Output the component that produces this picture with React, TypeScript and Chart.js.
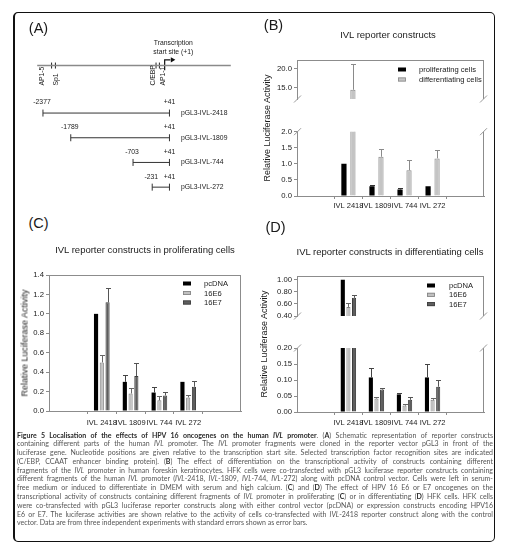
import React, { useEffect, useLayoutEffect, useRef } from 'react';
import { Chart, registerables } from 'chart.js';
Chart.register(...registerables);

const SANS = '"Liberation Sans", Arial, Helvetica, sans-serif';
const FRAME = '#8c8c8c';
const TEXT = '#1a1a1a';

// ---------- data ----------
const categories = ['IVL 2418', 'IVL 1809', 'IVL 744', 'IVL 272'];

// Panel B: proliferating vs differentiating
const bProliferating = [1.0, 0.3, 0.2, 0.3];
const bProliferatingErr = [0, 0.05, 0.06, 0];
const bDifferentiating = [14.5, 1.22, 0.8, 1.17];
const bDifferentiatingErr = [6.6, 0.24, 0.33, 0.25];
const bUpperTicks = [15, 20];
const bLowerTicks = [0, 0.5, 1.0, 1.5, 2.0];

// Panel C: proliferating cells
const cPcDNA = [1.0, 0.3, 0.19, 0.3];
const cPcDNAErr = [0, 0.07, 0.055, 0];
const c16E6 = [0.5, 0.18, 0.11, 0.14];
const c16E6Err = [0.08, 0.06, 0.04, 0.02];
const c16E7 = [1.12, 0.36, 0.16, 0.25];
const c16E7Err = [0.15, 0.13, 0.04, 0.06];
const cTicks = [0, 0.2, 0.4, 0.6, 0.8, 1.0, 1.2, 1.4];

// Panel D: differentiating cells
const dPcDNA = [1.0, 0.108, 0.055, 0.108];
const dPcDNAErr = [0, 0.029, 0.003, 0.042];
const d16E6 = [0.55, 0.042, 0.02, 0.038];
const d16E6Err = [0.06, 0.005, 0.005, 0.005];
const d16E7 = [0.7, 0.07, 0.038, 0.079];
const d16E7Err = [0.045, 0.006, 0.008, 0.021];
const dUpperTicks = [0.4, 0.6, 0.8, 1.0];
const dLowerTicks = [0, 0.05, 0.1, 0.15, 0.2];

// Panel A: schematic (positions in schematic units)
const siteNames = ['AP1-5', 'Sp1', 'C/EBP', 'AP1-1'];
const siteX = [48, 52, 157, 160.5];
const siteLabelX = [38.5, 52.5, 154, 164];
const constructNames = ['pGL3-IVL-2418', 'pGL3-IVL-1809', 'pGL3-IVL-744', 'pGL3-IVL-272'];
const constructStartLabels = ['-2377', '-1789', '-703', '-231'];
const constructEndLabel = '+41';
const constructStartX = [39, 68, 133, 153];
const constructEndX = 171;
const constructRowY = [113, 139, 165, 191];
const geneLineX = [33, 235];
const geneLineY = 63;
const tssX = 166;

// ---------- plugins ----------
function errorBarPlugin(errors: number[][], colors: string[]) {
  return {
    id: 'errorBars',
    afterDatasetsDraw(chart: any) {
      const { ctx, chartArea: a } = chart;
      ctx.save();
      ctx.beginPath();
      ctx.rect(a.left, a.top - 0.5, a.right - a.left, a.bottom - a.top + 0.5);
      ctx.clip();
      chart.data.datasets.forEach((ds: any, di: number) => {
        const meta = chart.getDatasetMeta(di);
        const ys = chart.scales[meta.yAxisID];
        meta.data.forEach((bar: any, i: number) => {
          const e = errors[di][i];
          if (!e) return;
          const v = ds.data[i].y;
          const x = Math.round(bar.x) + 0.5;
          const y0 = ys.getPixelForValue(v);
          const y1 = Math.round(ys.getPixelForValue(v + e)) + 0.5;
          ctx.strokeStyle = colors[di];
          ctx.lineWidth = 1;
          ctx.beginPath();
          ctx.moveTo(x, y0);
          ctx.lineTo(x, y1);
          ctx.moveTo(x - 2.5, y1);
          ctx.lineTo(x + 2.5, y1);
          ctx.stroke();
        });
      });
      ctx.restore();
    },
  };
}

function framePlugin(frameTop: boolean, breakAt: string | null) {
  return {
    id: 'frame',
    afterDraw(chart: any) {
      const { ctx, chartArea: a } = chart;
      ctx.save();
      ctx.strokeStyle = FRAME;
      ctx.lineWidth = 1;
      const L = Math.round(a.left) + 0.5;
      const R = Math.round(a.right) - 0.5;
      const T = Math.round(a.top) + 0.5;
      ctx.beginPath();
      ctx.moveTo(R, a.top);
      ctx.lineTo(R, a.bottom);
      if (frameTop) {
        ctx.moveTo(L - 0.5, T);
        ctx.lineTo(R + 0.5, T);
      }
      ctx.stroke();
      if (breakAt) {
        const y = breakAt === 'top' ? a.top : a.bottom;
        ctx.strokeStyle = '#9a9a9a';
        ctx.beginPath();
        for (const x of [L, R]) {
          ctx.moveTo(x - 3.5, y + 3.5);
          ctx.lineTo(x + 3.5, y - 3.5);
        }
        ctx.stroke();
      }
      ctx.restore();
    },
  };
}

type LegendSpec = { boxX: number; textX: number; y: number; dy: number };

function legendPlugin(spec: LegendSpec | undefined, ox: number, oy: number) {
  return {
    id: 'boxLegend',
    afterDraw(chart: any) {
      if (!spec) return;
      const { ctx } = chart;
      ctx.save();
      ctx.font = `7.6px ${SANS}`;
      ctx.textBaseline = 'middle';
      ctx.textAlign = 'left';
      chart.data.datasets.forEach((ds: any, i: number) => {
        const y = spec.y + i * spec.dy - oy;
        const bx = spec.boxX - ox;
        ctx.fillStyle = ds.backgroundColor;
        ctx.fillRect(bx, y - 2, 8, 4);
        if (ds.borderWidth) {
          ctx.strokeStyle = ds.borderColor;
          ctx.lineWidth = 0.8;
          ctx.strokeRect(bx + 0.4, y - 1.6, 7.2, 3.2);
        }
        ctx.fillStyle = TEXT;
        ctx.fillText(ds.label, spec.textX - ox, y + 0.5);
      });
      ctx.restore();
    },
  };
}

// ---------- bar chart component ----------
type Series = {
  label: string;
  values: number[];
  errors: number[];
  fill: string;
  stroke: string;
  border: number;
  errColor: string;
};

type Spec = {
  area: { left: number; top: number; right: number; bottom: number };
  xMax: number;
  yMin: number;
  yMax: number;
  yTicks: number[];
  decimals: number;
  showX: boolean;
  xLabelPad: number;
  frameTop: boolean;
  breakAt: string | null;
  cp: number;
  bp: number;
  series: Series[];
  legend?: LegendSpec;
};

const YW = 45;
const PAD = 12;
const XH = 24;

function BarChart({ spec }: { spec: Spec }) {
  const ref = useRef<HTMLCanvasElement>(null);
  const { area } = spec;
  const cl = Math.floor(area.left - YW);
  const ct = Math.floor(area.top - PAD);
  const cw = Math.ceil(area.right + PAD - cl);
  const bottomExtra = spec.showX ? XH : PAD;
  const ch = Math.ceil(area.bottom + bottomExtra - ct);
  const padLeft = area.left - YW - cl;
  const padTop = area.top - ct;
  const padRight = cw - (area.right - cl);
  const padBottom = ch - (area.bottom - ct) - (spec.showX ? XH : 0);

  useEffect(() => {
    const canvas = ref.current;
    if (!canvas) return;
    const chart = new Chart(canvas, {
      type: 'bar',
      data: {
        datasets: spec.series.map((s) => ({
          label: s.label,
          data: s.values.map((v, i) => ({ x: i + 1, y: v })),
          backgroundColor: s.fill,
          borderColor: s.stroke,
          borderWidth: s.border,
          categoryPercentage: spec.cp,
          barPercentage: spec.bp,
          clip: 0,
        })),
      },
      options: {
        responsive: false,
        animation: false,
        devicePixelRatio: 1,
        events: [],
        layout: { padding: { left: padLeft, top: padTop, right: padRight, bottom: padBottom } },
        plugins: { legend: { display: false }, title: { display: false }, tooltip: { enabled: false } },
        scales: {
          x: {
            type: 'linear',
            min: 0,
            max: spec.xMax,
            display: spec.showX,
            afterBuildTicks: (s: any) => {
              s.ticks = categories.map((_, i) => ({ value: i + 1 }));
            },
            afterFit: (s: any) => {
              s.height = XH;
              s.paddingLeft = 0;
              s.paddingRight = 0;
            },
            ticks: {
              autoSkip: false,
              maxRotation: 0,
              padding: spec.xLabelPad,
              color: TEXT,
              font: { family: SANS, size: 7.5 },
              callback: (v: any) => categories[Number(v) - 1] ?? '',
            },
            grid: { display: true, drawOnChartArea: false, drawTicks: true, tickLength: 3, color: FRAME },
            border: { display: true, color: FRAME, width: 1 },
          },
          y: {
            type: 'linear',
            min: spec.yMin,
            max: spec.yMax,
            afterBuildTicks: (s: any) => {
              s.ticks = spec.yTicks.map((v) => ({ value: v }));
            },
            afterFit: (s: any) => {
              s.width = YW;
              s.paddingTop = 0;
              s.paddingBottom = 0;
            },
            ticks: {
              padding: 2,
              color: TEXT,
              font: { family: SANS, size: 7.7 },
              callback: (v: any) => Number(v).toFixed(spec.decimals),
            },
            grid: { display: true, drawOnChartArea: false, drawTicks: true, tickLength: 3, color: FRAME },
            border: { display: true, color: FRAME, width: 1 },
          },
        },
      } as any,
      plugins: [
        errorBarPlugin(spec.series.map((s) => s.errors), spec.series.map((s) => s.errColor)),
        framePlugin(spec.frameTop, spec.breakAt),
        legendPlugin(spec.legend, cl, ct),
      ],
    });
    return () => chart.destroy();
  }, []);

  return (
    <canvas
      ref={ref}
      width={cw}
      height={ch}
      style={{ position: 'absolute', left: cl, top: ct, width: cw, height: ch }}
    />
  );
}

// ---------- panel A schematic ----------
function SchematicChart() {
  const ref = useRef<HTMLCanvasElement>(null);
  const L = 14, T = 14, W = 240, H = 200;
  useEffect(() => {
    const canvas = ref.current;
    if (!canvas) return;
    const texts: { text: string; x: number; y: number; align: string; rot?: boolean }[] = [];
    texts.push({ text: 'Transcription', x: tssX + 9, y: 39.5, align: 'center' });
    texts.push({ text: 'start site (+1)', x: tssX + 9, y: 48.5, align: 'center' });
    siteNames.forEach((n, i) => texts.push({ text: n, x: siteLabelX[i], y: 84, align: 'left', rot: true }));
    constructNames.forEach((n, i) => {
      texts.push({ text: constructStartLabels[i], x: constructStartX[i] - 1, y: constructRowY[i] - 11, align: 'center' });
      texts.push({ text: constructEndLabel, x: constructEndX, y: constructRowY[i] - 11, align: 'center' });
      texts.push({ text: n, x: 183, y: constructRowY[i], align: 'left' });
    });
    const textPlugin = {
      id: 'schemText',
      afterDatasetsDraw(chart: any) {
        const { ctx } = chart;
        const xs = chart.scales.x, ys = chart.scales.y;
        ctx.save();
        ctx.fillStyle = TEXT;
        ctx.font = `6.8px ${SANS}`;
        for (const t of texts) {
          ctx.save();
          ctx.translate(xs.getPixelForValue(t.x), ys.getPixelForValue(t.y));
          if (t.rot) ctx.rotate(-Math.PI / 2);
          ctx.textAlign = t.align;
          ctx.textBaseline = 'middle';
          ctx.fillText(t.text, 0, 0);
          ctx.restore();
        }
        ctx.restore();
      },
    };
    const datasets: any[] = [
      {
        data: geneLineX.map((x) => ({ x, y: geneLineY })),
        showLine: true,
        borderColor: '#8a8a8a',
        borderWidth: 1.4,
        pointRadius: 0,
      },
      {
        data: siteX.map((x) => ({ x, y: geneLineY })),
        showLine: false,
        pointStyle: 'line',
        rotation: 90,
        pointRadius: 3,
        borderColor: '#222',
        borderWidth: 1,
      },
      {
        data: [
          { x: tssX, y: geneLineY + 5 },
          { x: tssX, y: geneLineY - 6 },
          { x: tssX + 6, y: geneLineY - 6 },
        ],
        showLine: true,
        borderColor: '#111',
        borderWidth: 1.2,
        pointRadius: 0,
      },
      {
        data: [{ x: tssX + 8, y: geneLineY - 6 }],
        showLine: false,
        pointStyle: 'triangle',
        rotation: 90,
        pointRadius: 3,
        backgroundColor: '#111',
        borderColor: '#111',
        borderWidth: 0,
      },
      ...constructNames.map((_, i) => ({
        data: [
          { x: constructStartX[i], y: constructRowY[i] },
          { x: constructEndX, y: constructRowY[i] },
        ],
        showLine: true,
        borderColor: '#333',
        borderWidth: 1,
        pointStyle: 'line',
        rotation: 90,
        pointRadius: 3.5,
        pointBorderColor: '#333',
        pointBorderWidth: 1,
      })),
    ];
    const chart = new Chart(canvas, {
      type: 'scatter',
      data: { datasets },
      options: {
        responsive: false,
        animation: false,
        devicePixelRatio: 1,
        events: [],
        layout: { padding: 0 },
        plugins: { legend: { display: false }, tooltip: { enabled: false } },
        scales: {
          x: { type: 'linear', min: L, max: L + W, display: false },
          y: { type: 'linear', min: T, max: T + H, reverse: true, display: false },
        },
      } as any,
      plugins: [textPlugin],
    });
    return () => chart.destroy();
  }, []);
  return (
    <canvas ref={ref} width={W} height={H} style={{ position: 'absolute', left: L, top: T, width: W, height: H }} />
  );
}

// ---------- specs ----------
const bSeries: Series[] = [
  { label: 'proliferating cells', values: bProliferating, errors: bProliferatingErr, fill: '#000000', stroke: '#000000', border: 0, errColor: '#333' },
  { label: 'differentiating cells', values: bDifferentiating, errors: bDifferentiatingErr, fill: '#c4c4c4', stroke: '#8a8a8a', border: 1, errColor: '#8a8a8a' },
];
const cSeries: Series[] = [
  { label: 'pcDNA', values: cPcDNA, errors: cPcDNAErr, fill: '#000000', stroke: '#000000', border: 0, errColor: '#444' },
  { label: '16E6', values: c16E6, errors: c16E6Err, fill: '#c0c0c0', stroke: '#808080', border: 1, errColor: '#666' },
  { label: '16E7', values: c16E7, errors: c16E7Err, fill: '#5e5e5e', stroke: '#3c3c3c', border: 1, errColor: '#555' },
];
const dSeries: Series[] = [
  { label: 'pcDNA', values: dPcDNA, errors: dPcDNAErr, fill: '#000000', stroke: '#000000', border: 0, errColor: '#444' },
  { label: '16E6', values: d16E6, errors: d16E6Err, fill: '#c0c0c0', stroke: '#808080', border: 1, errColor: '#666' },
  { label: '16E7', values: d16E7, errors: d16E7Err, fill: '#5e5e5e', stroke: '#3c3c3c', border: 1, errColor: '#555' },
];

const specs: Spec[] = [
  {
    area: { left: 297, top: 60, right: 484, bottom: 123 },
    xMax: 5, yMin: 12.1, yMax: 22.26, yTicks: bUpperTicks, decimals: 1,
    showX: false, xLabelPad: 2, frameTop: true, breakAt: 'bottom', cp: 0.64, bp: 0.58,
    series: bSeries, legend: { boxX: 398, textX: 419, y: 69.5, dy: 10 },
  },
  {
    area: { left: 297, top: 131.7, right: 484, bottom: 196 },
    xMax: 5, yMin: 0, yMax: 2, yTicks: bLowerTicks, decimals: 1,
    showX: true, xLabelPad: 2, frameTop: false, breakAt: 'top', cp: 0.64, bp: 0.58,
    series: bSeries,
  },
  {
    area: { left: 49, top: 275, right: 241, bottom: 411 },
    xMax: 5, yMin: 0, yMax: 1.4, yTicks: cTicks, decimals: 1,
    showX: true, xLabelPad: 4, frameTop: true, breakAt: null, cp: 0.6, bp: 0.72,
    series: cSeries, legend: { boxX: 183, textX: 204, y: 283.5, dy: 9.5 },
  },
  {
    area: { left: 297, top: 276, right: 484, bottom: 340 },
    xMax: 5, yMin: 0.4, yMax: 1.062, yTicks: dUpperTicks, decimals: 2,
    showX: false, xLabelPad: 3, frameTop: true, breakAt: 'bottom', cp: 0.6, bp: 0.73,
    series: dSeries, legend: { boxX: 427, textX: 449, y: 285.5, dy: 9.3 },
  },
  {
    area: { left: 297, top: 348, right: 484, bottom: 412 },
    xMax: 5, yMin: 0, yMax: 0.2, yTicks: dLowerTicks, decimals: 2,
    showX: true, xLabelPad: 3, frameTop: false, breakAt: 'top', cp: 0.6, bp: 0.73,
    series: dSeries,
  },
];

// ---------- text helpers ----------
function Centered({ x, y, size, children, rot, weight }: any) {
  return (
    <div
      style={{
        position: 'absolute',
        left: x,
        top: y,
        transform: `translate(-50%, -50%)${rot ? ' rotate(-90deg)' : ''}`,
        whiteSpace: 'nowrap',
        fontFamily: SANS,
        fontSize: size,
        fontWeight: weight || 'normal',
        color: TEXT,
        lineHeight: 1,
      }}
    >
      {children}
    </div>
  );
}

type Seg = [string, string];
const captionLines: Seg[][] = [
  [['Figure 5 Localisation of the effects of HPV 16 oncogenes on the human ', 'b'], ['IVL', 'bi'], [' promoter', 'b'], ['. (', 'r'], ['A', 'b'], [') Schematic representation of reporter constructs', 'r']],
  [['containing different parts of the human ', 'r'], ['IVL', 'i'], [' promoter. The ', 'r'], ['IVL', 'i'], [' promoter fragments were cloned in the reporter vector pGL3 in front of the', 'r']],
  [['luciferase gene. Nucleotide positions are given relative to the transcription start site. Selected transcription factor recognition sites are indicated', 'r']],
  [['(C/EBP, CCAAT enhancer binding protein). (', 'r'], ['B', 'b'], [') The effect of differentiation on the transcriptional activity of constructs containing different', 'r']],
  [['fragments of the ', 'r'], ['IVL', 'i'], [' promoter in human foreskin keratinocytes. HFK cells were co-transfected with pGL3 luciferase reporter constructs containing', 'r']],
  [['different fragments of the human ', 'r'], ['IVL', 'i'], [' promoter (', 'r'], ['IVL', 'i'], ['-2418, ', 'r'], ['IVL', 'i'], ['-1809, ', 'r'], ['IVL', 'i'], ['-744, ', 'r'], ['IVL', 'i'], ['-272) along with pcDNA control vector. Cells were left in serum-', 'r']],
  [['free medium or induced to differentiate in DMEM with serum and high calcium. (', 'r'], ['C', 'b'], [') and (', 'r'], ['D', 'b'], [') The effect of HPV 16 E6 or E7 oncogenes on the', 'r']],
  [['transcriptional activity of constructs containing different fragments of ', 'r'], ['IVL', 'i'], [' promoter in proliferating (', 'r'], ['C', 'b'], [') or in differentiating (', 'r'], ['D', 'b'], [') HFK cells. HFK cells', 'r']],
  [['were co-transfected with pGL3 luciferase reporter constructs along with either control vector (pcDNA) or expression constructs encoding HPV16', 'r']],
  [['E6 or E7. The luciferase activities are shown relative to the activity of cells co-transfected with ', 'r'], ['IVL', 'i'], ['-2418 reporter construct along with the control', 'r']],
  [['vector. Data are from three independent experiments with standard errors shown as error bars.', 'r']],
];

const CAP_W = 476;

function CaptionLine({ segs, justify }: { segs: Seg[]; justify: boolean }) {
  const inner = useRef<HTMLSpanElement>(null);
  useLayoutEffect(() => {
    const span = inner.current;
    if (!span) return;
    const natural = span.getBoundingClientRect().width;
    const text = span.textContent || '';
    const spaces = (text.match(/ /g) || []).length;
    if (natural > CAP_W) {
      span.style.display = 'inline-block';
      span.style.transformOrigin = '0 0';
      span.style.transform = `scaleX(${CAP_W / natural})`;
    } else if (justify && spaces) {
      span.style.wordSpacing = `${(CAP_W - natural) / spaces}px`;
    }
  }, []);
  return (
    <div style={{ height: 8.8, lineHeight: '8.8px', whiteSpace: 'nowrap' }}>
      <span ref={inner}>
        {segs.map(([t, s], si) => (
          <span
            key={si}
            style={{
              fontWeight: s.includes('b') ? 700 : 400,
              fontStyle: s.includes('i') ? 'italic' : 'normal',
              color: s.includes('b') ? '#2a2a2a' : undefined,
            }}
          >
            {t}
          </span>
        ))}
      </span>
    </div>
  );
}

function Caption() {
  return (
    <div
      style={{
        position: 'absolute', left: 17, top: 430.5, width: CAP_W,
        fontFamily: 'Lato, "Open Sans", sans-serif', fontSize: 7, color: '#555',
      }}
    >
      {captionLines.map((line, li) => (
        <CaptionLine key={li} segs={line} justify={li < captionLines.length - 1} />
      ))}
    </div>
  );
}

export default function App() {
  return (
    <div style={{ position: 'absolute', left: 0, top: 0, width: 508, height: 553, background: '#fff', overflow: 'hidden' }}>
      <div
        style={{
          position: 'absolute', left: 13, top: 12, width: 482, height: 530, boxSizing: 'border-box',
          border: '1.5px solid #111', borderLeft: '2.5px solid #111', borderRadius: 5,
        }}
      />
      <SchematicChart />
      {specs.map((s, i) => (
        <BarChart key={i} spec={s} />
      ))}
      <Centered x={38.5} y={28} size={14.5}>(A)</Centered>
      <Centered x={273.5} y={25} size={14.5}>(B)</Centered>
      <Centered x={38.5} y={223} size={14.5}>(C)</Centered>
      <Centered x={275.5} y={227} size={14.5}>(D)</Centered>
      <Centered x={388} y={35} size={9.5}>IVL reporter constructs</Centered>
      <Centered x={145} y={250} size={9.5}>IVL reporter constructs in proliferating cells</Centered>
      <Centered x={390} y={252} size={9.5}>IVL reporter constructs in differentiating cells</Centered>
      <Centered x={267} y={128} size={9} rot>Relative Luciferase Activity</Centered>
      <Centered x={25} y={343} size={9} rot>Relative Luciferase Activity</Centered>
      <Centered x={264} y={344} size={9} rot>Relative Luciferase Activity</Centered>
      <Caption />
    </div>
  );
}
